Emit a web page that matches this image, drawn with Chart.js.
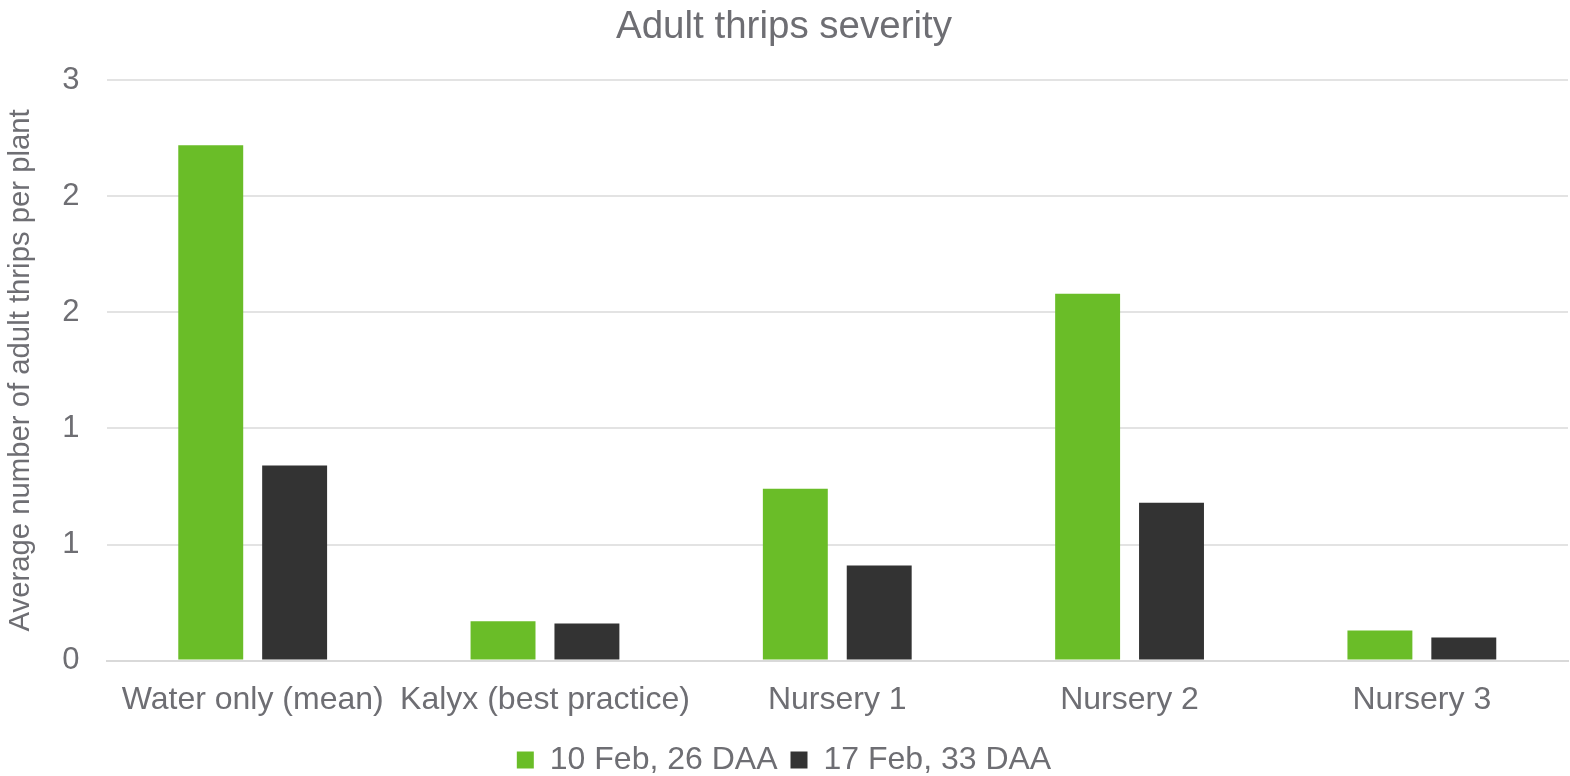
<!DOCTYPE html>
<html>
<head>
<meta charset="utf-8">
<script src="https://cdn.jsdelivr.net/npm/chart.js@4/dist/chart.umd.min.js"></script>
<style>
  html, body { margin: 0; padding: 0; background: #ffffff; }
  #wrap { width: 1570px; height: 776px; position: relative; }
</style>
</head>
<body>
<div id="wrap"><canvas id="c" width="1570" height="776"></canvas></div>
<script>
const categories = ['Water only (mean)', 'Kalyx (best practice)', 'Nursery 1', 'Nursery 2', 'Nursery 3'];
const seriesNames = ['10 Feb, 26 DAA', '17 Feb, 33 DAA'];
const feb10 = [2.22, 0.17, 0.74, 1.58, 0.13];
const feb17 = [0.84, 0.16, 0.41, 0.68, 0.10];
const tickLabels = ['0', '1', '1', '2', '2', '3'];
const titleText = 'Adult thrips severity';
const yTitle = 'Average number of adult thrips per plant';

const textColor = '#6e6e73';
const fontFamily = '"Liberation Sans", Arial, sans-serif';

new Chart(document.getElementById('c'), {
  type: 'bar',
  data: {
    labels: categories,
    datasets: [
      { label: seriesNames[0], data: feb10, backgroundColor: '#6abd28', barPercentage: 0.774, categoryPercentage: 0.574 },
      { label: seriesNames[1], data: feb17, backgroundColor: '#333333', barPercentage: 0.774, categoryPercentage: 0.574 }
    ]
  },
  options: {
    responsive: false,
    animation: false,
    layout: { padding: { left: 0, right: 2, top: 0, bottom: -10 } },
    plugins: {
      title: {
        display: true, text: titleText, color: textColor,
        font: { family: fontFamily, size: 38.5, weight: 'normal' },
        padding: { top: 4, bottom: 30 }
      },
      legend: {
        position: 'bottom',
        labels: {
          color: textColor,
          font: { family: fontFamily, size: 32 },
          boxWidth: 17, boxHeight: 17, padding: 13
        }
      },
      tooltip: { enabled: false }
    },
    scales: {
      x: {
        grid: { display: false },
        border: { display: true, color: '#d9d9d9', width: 2 },
        ticks: { color: textColor, font: { family: fontFamily, size: 32 }, padding: 12, maxRotation: 0, autoSkip: false }
      },
      y: {
        min: 0, max: 2.5,
        grid: { color: '#e3e3e3', lineWidth: 2, drawTicks: false },
        border: { display: false },
        ticks: {
          stepSize: 0.5, color: textColor, padding: 27,
          font: { family: fontFamily, size: 31 },
          callback: (v, i) => tickLabels[i]
        },
        title: {
          display: true, text: yTitle, color: textColor,
          font: { family: fontFamily, size: 29.3, lineHeight: 1 }, padding: { top: 6, bottom: 0 }
        }
      }
    }
  }
});
</script>
</body>
</html>
